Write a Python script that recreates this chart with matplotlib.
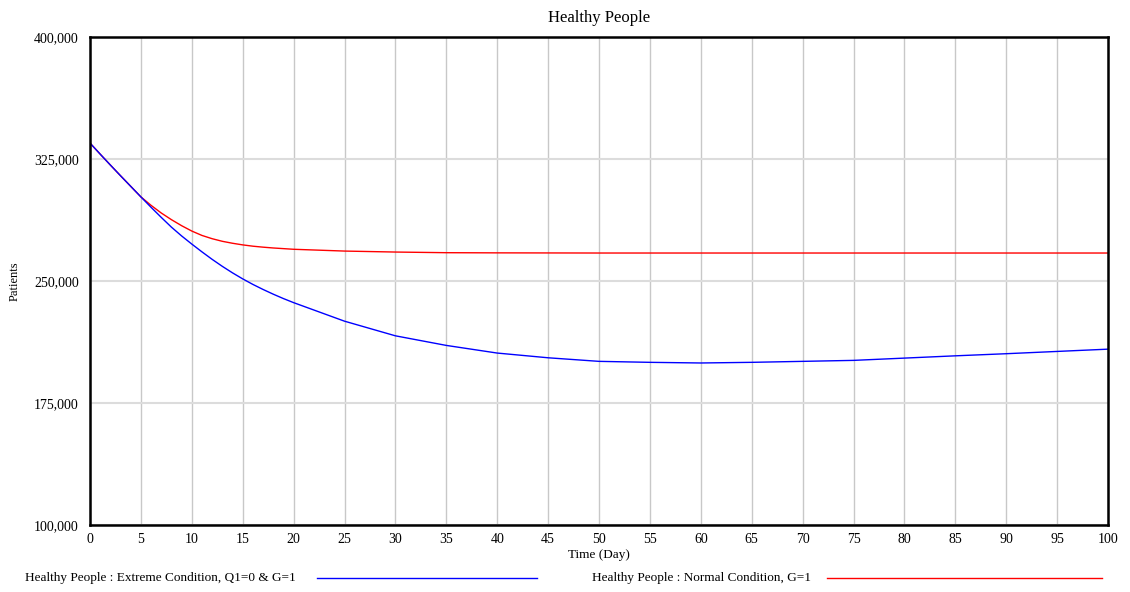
import matplotlib
matplotlib.use("Agg")
import matplotlib.pyplot as plt
from matplotlib.lines import Line2D
from matplotlib.ticker import FuncFormatter

plt.rcParams['font.family'] = ['Liberation Serif', 'DejaVu Serif']

# Simulation output (days, patients)
extreme_days = [0, 1, 2, 3, 4, 5, 6, 7, 8, 9, 10, 11, 12, 13, 14, 15, 16, 17,
                18, 19, 20, 25, 30, 35, 40, 45, 50, 55, 60, 65, 70, 75, 80, 85,
                90, 95, 100]
extreme_vals = [334800, 328000, 321300, 314700, 308200, 301700, 295300, 289100,
                283100, 277700, 272700, 267900, 263300, 259000, 255000, 251300,
                247900, 244800, 241900, 239200, 236700, 225300, 216300, 210400,
                205700, 202800, 200600, 200000, 199600, 200000, 200600, 201200,
                202600, 204000, 205300, 206700, 208100]

normal_days = [0, 1, 2, 3, 4, 5, 6, 7, 8, 9, 10, 11, 12, 13, 14, 15, 16, 17,
               18, 20, 25, 30, 35, 40, 50, 60, 70, 80, 90, 100]
normal_vals = [334800, 328000, 321300, 314700, 308200, 301700, 296500, 291800,
               287700, 284000, 280700, 278000, 276000, 274400, 273200, 272200,
               271400, 270800, 270300, 269500, 268400, 267800, 267400, 267300,
               267200, 267200, 267200, 267200, 267200, 267200]

y_ticks = [100000, 175000, 250000, 325000, 400000]
x_ticks = list(range(0, 101, 5))

label_extreme = "Healthy People : Extreme Condition, Q1=0 & G=1"
label_normal = "Healthy People : Normal Condition, G=1"

fig = plt.figure(figsize=(11.30, 5.92), dpi=100)
ax = fig.add_axes([90 / 1130, 1 - 525 / 592, (1108 - 90) / 1130, (525 - 37) / 592])

ax.plot(normal_days, normal_vals, color='#ff0000', lw=1.0)
ax.plot(extreme_days, extreme_vals, color='#0000ff', lw=1.0)

ax.set_xlim(0, 100)
ax.set_ylim(100000, 400000)
ax.set_xticks(x_ticks)
ax.set_yticks(y_ticks)
ax.yaxis.set_major_formatter(FuncFormatter(lambda v, p: f"{int(v):,}"))
ax.tick_params(length=0, labelsize=10, colors='#000000')
ax.tick_params(axis='y', pad=8)
ax.tick_params(axis='x', pad=6)

ax.grid(axis='x', color='#c8c8c8', lw=1.0)
ax.grid(axis='y', color='#dcdcdc', lw=1.5)
ax.set_axisbelow(True)
for s in ax.spines.values():
    s.set_linewidth(1.8)
    s.set_color('#000000')

ax.set_title("Healthy People", fontsize=12, pad=11)
ax.set_xlabel("Time (Day)", fontsize=9.5, labelpad=2)
ax.set_ylabel("Patients", fontsize=9, labelpad=10)

# Legend row beneath the axes
fig.text(25 / 1130, 1 - 578 / 592, label_extreme, fontsize=9.5, va='center', ha='left')
fig.add_artist(Line2D([317 / 1130, 537 / 1130], [1 - 578 / 592] * 2,
                      color='#0000ff', lw=1.0, transform=fig.transFigure))
fig.text(592 / 1130, 1 - 578 / 592, label_normal, fontsize=9.5, va='center', ha='left')
fig.add_artist(Line2D([827 / 1130, 1102 / 1130], [1 - 578 / 592] * 2,
                      color='#ff0000', lw=1.0, transform=fig.transFigure))

fig.savefig("out.png", dpi=100)
